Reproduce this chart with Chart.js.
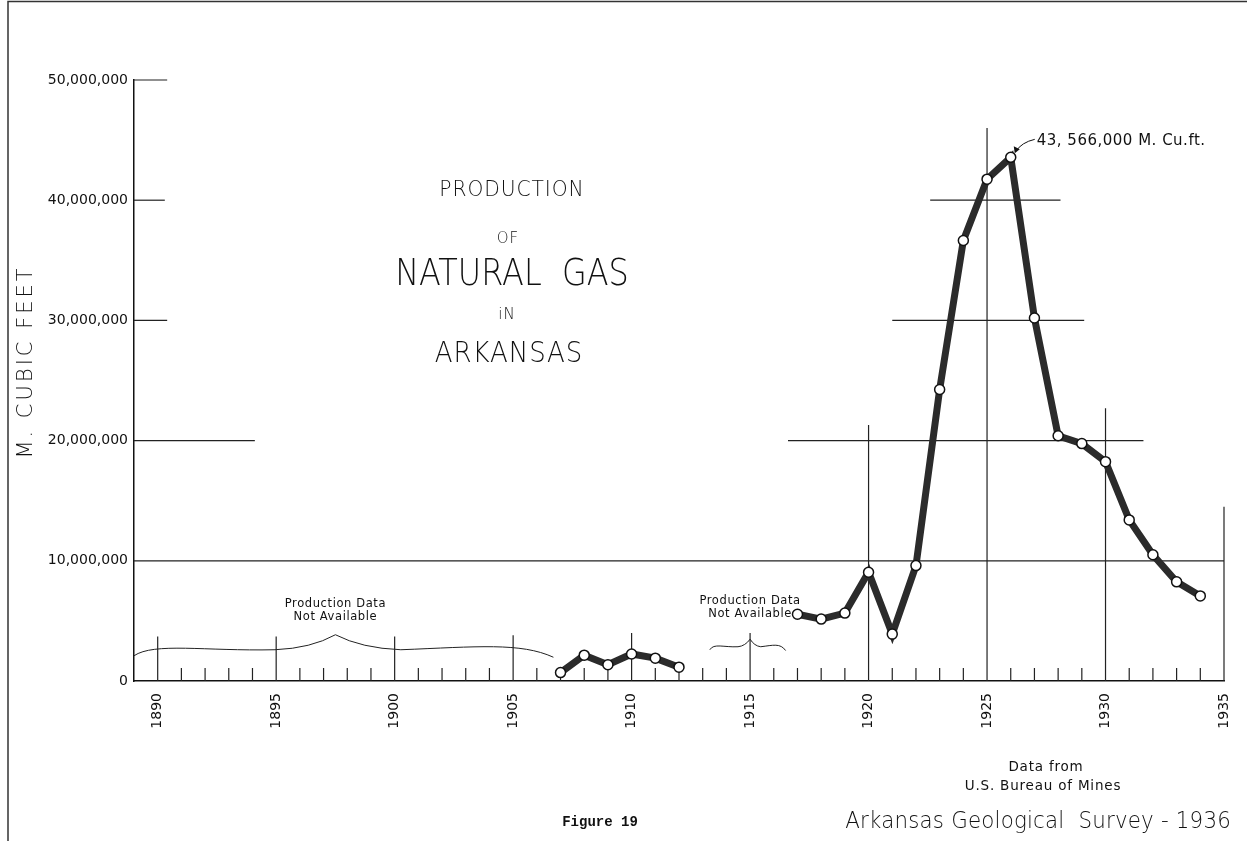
<!DOCTYPE html>
<html>
<head>
<meta charset="utf-8">
<title>Production of Natural Gas in Arkansas</title>
<script src="https://cdn.jsdelivr.net/npm/chart.js@4/dist/chart.umd.min.js"></script>
<style>
  body { margin: 0; background: #fff; }
  #grafico { display: block; }
</style>
</head>
<body>
<canvas id="grafico" width="1247" height="841"></canvas>
<script>
// anos com produção (M. cu. ft.); 1913-1916 sem dados
const anos = [1907, 1908, 1909, 1910, 1911, 1912, 1913, 1914, 1915, 1916,
    1917, 1918, 1919, 1920, 1921, 1922, 1923, 1924, 1925, 1926,
    1927, 1928, 1929, 1930, 1931, 1932, 1933, 1934];
const producao = [700000, 2150000, 1350000, 2250000, 1900000, 1150000, null, null, null, null,
    5550000, 5150000, 5650000, 9050000, 3900000, 9600000, 24250000, 36650000, 41750000, 43566000,
    30200000, 20400000, 19750000, 18250000, 13400000, 10500000, 8250000, 7080000];

const rotulosAnos = [1890, 1895, 1900, 1905, 1910, 1915, 1920, 1925, 1930, 1935];
const rotulosValores = [0, 10000000, 20000000, 30000000, 40000000, 50000000];

// pedaços da grade, em unidades do gráfico
const linhasHorizontais = [
    { valor: 50000000, de: 1889, ate: 1890.4 },
    { valor: 40000000, de: 1889, ate: 1890.3 },
    { valor: 40000000, de: 1922.6, ate: 1928.1 },
    { valor: 30000000, de: 1889, ate: 1890.4 },
    { valor: 30000000, de: 1921, ate: 1929.1 },
    { valor: 20000000, de: 1889, ate: 1894.1 },
    { valor: 20000000, de: 1916.6, ate: 1931.6 },
    { valor: 10000000, de: 1889, ate: 1935 }
];
const linhasVerticais = [
    { ano: 1890, ate: 3700000 }, { ano: 1895, ate: 3700000 }, { ano: 1900, ate: 3700000 },
    { ano: 1905, ate: 3800000 }, { ano: 1910, ate: 4000000 }, { ano: 1915, ate: 4000000 },
    { ano: 1920, ate: 21300000 }, { ano: 1925, ate: 46000000 }, { ano: 1930, ate: 22700000 },
    { ano: 1935, ate: 14500000 }
];
const chaves = [
    { de: 1889, meio: 1897.5, ate: 1906.7, nivel: 2600000 },
    { de: 1913.3, meio: 1915, ate: 1916.5, nivel: 2850000 }
];

const fonteLetreiro = '"DejaVu Sans", sans-serif';

function texto(ctx, t, x, y, fonte, espaco, largura) {
    ctx.save();
    ctx.translate(x, y);
    ctx.scale(largura || 1, 1);
    ctx.font = fonte;
    ctx.letterSpacing = (espaco || 0) + 'px';
    ctx.fillText(t, 0, 0);
    ctx.restore();
}

function desenhaChave(ctx, x1, xm, x2, y) {
    const w1 = xm - x1, w2 = x2 - xm;
    const alto = Math.min(15, (w1 + w2) * 0.1);
    ctx.beginPath();
    ctx.moveTo(x1, y + alto * 0.4);
    ctx.bezierCurveTo(x1 + w1 * 0.1, y - alto * 0.5, x1 + w1 * 0.35, y + alto * 0.1, x1 + w1 * 0.7, y);
    ctx.quadraticCurveTo(xm - w1 * 0.12, y - alto * 0.1, xm, y - alto);
    ctx.quadraticCurveTo(xm + w2 * 0.12, y - alto * 0.1, xm + w2 * 0.3, y);
    ctx.bezierCurveTo(xm + w2 * 0.65, y - alto * 0.2, xm + w2 * 0.85, y - alto * 0.5, x2, y + alto * 0.5);
    ctx.stroke();
}

const desenho = {
    id: 'desenho',
    beforeDatasetsDraw(chart) {
        const ctx = chart.ctx;
        const x = chart.scales.x, y = chart.scales.y;
        ctx.save();
        ctx.strokeStyle = '#222';
        ctx.lineWidth = 1.2;
        linhasHorizontais.forEach(l => {
            ctx.beginPath();
            ctx.moveTo(x.getPixelForValue(l.de), y.getPixelForValue(l.valor));
            ctx.lineTo(x.getPixelForValue(l.ate), y.getPixelForValue(l.valor));
            ctx.stroke();
        });
        linhasVerticais.forEach(l => {
            ctx.beginPath();
            ctx.moveTo(x.getPixelForValue(l.ano), y.getPixelForValue(0));
            ctx.lineTo(x.getPixelForValue(l.ano), y.getPixelForValue(l.ate));
            ctx.stroke();
        });
        // marcas de cada ano
        for (let a = 1891; a < 1935; a++) {
            if (a % 5 === 0) continue;
            ctx.beginPath();
            ctx.moveTo(x.getPixelForValue(a), y.getPixelForValue(0));
            ctx.lineTo(x.getPixelForValue(a), y.getPixelForValue(0) - 13);
            ctx.stroke();
        }
        ctx.lineWidth = 1;
        chaves.forEach(c => {
            const py = y.getPixelForValue(c.nivel);
            const pm = x.getPixelForValue(c.meio);
            desenhaChave(ctx, x.getPixelForValue(c.de), pm, x.getPixelForValue(c.ate), py);
            ctx.fillStyle = '#111';
            ctx.textAlign = 'center';
            ctx.textBaseline = 'middle';
            texto(ctx, 'Production Data', pm, py - 46, '11.5px ' + fonteLetreiro, 0.6);
            texto(ctx, 'Not Available', pm, py - 33, '11.5px ' + fonteLetreiro, 0.6);
        });
        ctx.restore();
    },
    afterDraw(chart) {
        const ctx = chart.ctx;
        const x = chart.scales.x, y = chart.scales.y;
        ctx.save();
        ctx.fillStyle = '#111';
        ctx.textAlign = 'center';
        ctx.textBaseline = 'middle';
        const leve = '200 ';
        texto(ctx, 'PRODUCTION', 512, 190, leve + '22px ' + fonteLetreiro, 1, 0.92);
        texto(ctx, 'OF', 508, 239, leve + '15px ' + fonteLetreiro, 1);
        texto(ctx, 'NATURAL  GAS', 512, 275, leve + '38px ' + fonteLetreiro, 0, 0.84);
        texto(ctx, 'iN', 507, 315, leve + '15px ' + fonteLetreiro, 1);
        texto(ctx, 'ARKANSAS', 509, 355, leve + '28px ' + fonteLetreiro, 1, 0.93);

        // título do eixo y
        ctx.save();
        ctx.translate(27, 362);
        ctx.rotate(-Math.PI / 2);
        texto(ctx, 'M. CUBIC FEET', 0, 0, leve + '21px ' + fonteLetreiro, 3);
        ctx.restore();

        // nota do pico
        const i = producao.indexOf(Math.max(...producao));
        const px = x.getPixelForValue(anos[i]), py = y.getPixelForValue(producao[i]);
        ctx.strokeStyle = '#111';
        ctx.lineWidth = 1;
        ctx.beginPath();
        ctx.moveTo(px + 24, py - 18);
        ctx.quadraticCurveTo(px + 11, py - 15, px + 5, py - 6);
        ctx.stroke();
        ctx.beginPath();
        ctx.moveTo(px + 4, py - 4);
        ctx.lineTo(px + 3, py - 11);
        ctx.lineTo(px + 9, py - 8);
        ctx.closePath();
        ctx.fill();
        ctx.textAlign = 'left';
        texto(ctx, '43, 566,000 M. Cu.ft.', px + 26, py - 16, '15px ' + fonteLetreiro, 0.5);

        ctx.textAlign = 'center';
        texto(ctx, 'Data from', 1046, 767, '13.5px ' + fonteLetreiro, 0.8);
        texto(ctx, 'U.S. Bureau of Mines', 1043, 786, '13.5px ' + fonteLetreiro, 0.8);
        texto(ctx, 'Figure 19', 600, 822, 'bold 14px "Liberation Mono", monospace', 0);
        ctx.textAlign = 'right';
        texto(ctx, 'Arkansas Geological  Survey - 1936', 1231, 822, leve + '23px ' + fonteLetreiro, 0.2, 0.93);

        // bordas da folha
        ctx.strokeStyle = '#333';
        ctx.lineWidth = 1.5;
        ctx.beginPath();
        ctx.moveTo(8, 841);
        ctx.lineTo(8, 1.5);
        ctx.lineTo(1247, 1.5);
        ctx.stroke();
        ctx.restore();
    }
};

const graficoGas = new Chart(document.getElementById('grafico'), {
    type: 'line',
    data: {
        datasets: [{
            label: 'Natural gas',
            data: anos.map((a, i) => ({ x: a, y: producao[i] })),
            borderColor: '#2b2b2b',
            borderWidth: 7,
            pointRadius: 5,
            pointBackgroundColor: '#fff',
            pointBorderColor: '#111',
            pointBorderWidth: 1.5,
            spanGaps: false,
            tension: 0
        }]
    },
    options: {
        responsive: false,
        animation: false,
        devicePixelRatio: 1,
        layout: { padding: { top: 80, right: 23, left: 0, bottom: 0 } },
        plugins: { legend: { display: false }, tooltip: { enabled: false } },
        scales: {
            x: {
                type: 'linear',
                min: 1889,
                max: 1935,
                afterFit: (escala) => {
                    escala.height = 160;
                    escala.paddingLeft = 0;
                    escala.paddingRight = 0;
                },
                afterBuildTicks: (escala) => { escala.ticks = rotulosAnos.map(v => ({ value: v })); },
                grid: { drawOnChartArea: false, drawTicks: false },
                border: { display: true, color: '#111', width: 1.5 },
                ticks: {
                    minRotation: 90,
                    maxRotation: 90,
                    padding: 12,
                    color: '#111',
                    font: { family: 'DejaVu Sans', size: 14 },
                    callback: (v) => String(v)
                }
            },
            y: {
                min: 0,
                max: 50000000,
                afterFit: (escala) => { escala.width = 134; },
                afterBuildTicks: (escala) => { escala.ticks = rotulosValores.map(v => ({ value: v })); },
                grid: { drawOnChartArea: false, drawTicks: false },
                border: { display: true, color: '#111', width: 1.5 },
                ticks: {
                    padding: 6,
                    color: '#111',
                    font: { family: 'DejaVu Sans', size: 14 },
                    callback: (v) => v.toLocaleString('en-US')
                }
            }
        }
    },
    plugins: [desenho]
});
</script>
</body>
</html>
